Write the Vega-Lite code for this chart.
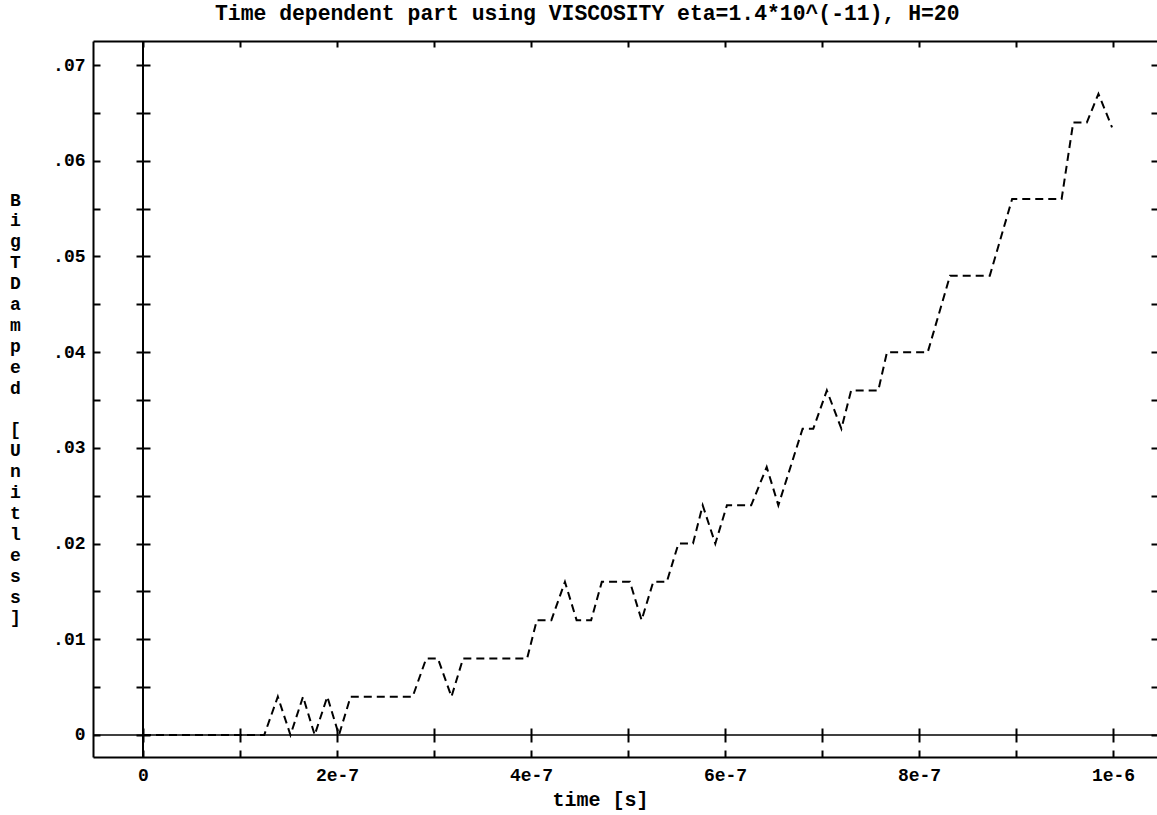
{
  "$schema": "https://vega.github.io/schema/vega-lite/v6.json",
  "width": 1064,
  "height": 716,
  "autosize": {"type": "none"},
  "padding": {"left": 93, "top": 41, "right": 0, "bottom": 58},
  "background": "white",
  "view": {"stroke": null},
  "config": {
    "font": "Liberation Mono",
    "axis": {"grid": false, "domainColor": "black", "tickColor": "black", "labelColor": "black", "titleColor": "black", "domainWidth": 2, "tickWidth": 2}
  },
  "title": {
    "text": "Time dependent part using VISCOSITY eta=1.4*10^(-11), H=20",
    "font": "Liberation Mono",
    "fontSize": 21.4,
    "fontWeight": "bold",
    "color": "black",
    "anchor": "start",
    "frame": "group",
    "dx": 122,
    "baseline": "alphabetic",
    "offset": -1
  },
  "resolve": {"axis": {"x": "independent", "y": "independent"}},
  "layer": [
    {
      "data": {
        "values": [
          {"t": 0, "v": 0},
          {"t": 1.25e-7, "v": 0},
          {"t": 1.39e-7, "v": 0.004},
          {"t": 1.52e-7, "v": 0},
          {"t": 1.65e-7, "v": 0.004},
          {"t": 1.77e-7, "v": 0},
          {"t": 1.90e-7, "v": 0.004},
          {"t": 2.02e-7, "v": 0},
          {"t": 2.14e-7, "v": 0.004},
          {"t": 2.78e-7, "v": 0.004},
          {"t": 2.92e-7, "v": 0.008},
          {"t": 3.04e-7, "v": 0.008},
          {"t": 3.18e-7, "v": 0.004},
          {"t": 3.30e-7, "v": 0.008},
          {"t": 3.96e-7, "v": 0.008},
          {"t": 4.06e-7, "v": 0.012},
          {"t": 4.21e-7, "v": 0.012},
          {"t": 4.35e-7, "v": 0.016},
          {"t": 4.47e-7, "v": 0.012},
          {"t": 4.62e-7, "v": 0.012},
          {"t": 4.73e-7, "v": 0.016},
          {"t": 5.02e-7, "v": 0.016},
          {"t": 5.14e-7, "v": 0.012},
          {"t": 5.26e-7, "v": 0.016},
          {"t": 5.40e-7, "v": 0.016},
          {"t": 5.52e-7, "v": 0.020},
          {"t": 5.67e-7, "v": 0.020},
          {"t": 5.77e-7, "v": 0.024},
          {"t": 5.90e-7, "v": 0.020},
          {"t": 6.02e-7, "v": 0.024},
          {"t": 6.27e-7, "v": 0.024},
          {"t": 6.43e-7, "v": 0.028},
          {"t": 6.55e-7, "v": 0.024},
          {"t": 6.80e-7, "v": 0.032},
          {"t": 6.91e-7, "v": 0.032},
          {"t": 7.05e-7, "v": 0.036},
          {"t": 7.20e-7, "v": 0.032},
          {"t": 7.30e-7, "v": 0.036},
          {"t": 7.58e-7, "v": 0.036},
          {"t": 7.67e-7, "v": 0.040},
          {"t": 8.09e-7, "v": 0.040},
          {"t": 8.32e-7, "v": 0.048},
          {"t": 8.73e-7, "v": 0.048},
          {"t": 8.96e-7, "v": 0.056},
          {"t": 9.47e-7, "v": 0.056},
          {"t": 9.59e-7, "v": 0.064},
          {"t": 9.73e-7, "v": 0.064},
          {"t": 9.85e-7, "v": 0.067},
          {"t": 9.99e-7, "v": 0.0635}
        ]
      },
      "mark": {"type": "line", "color": "black", "strokeWidth": 2, "strokeDash": [8, 5], "interpolate": "linear"},
      "encoding": {
        "x": {
          "field": "t", "type": "quantitative",
          "scale": {"domain": [-5.155e-8, 1.04536e-6], "nice": false, "zero": false},
          "axis": {
            "orient": "bottom",
            "values": [0, 1e-7, 2e-7, 3e-7, 4e-7, 5e-7, 6e-7, 7e-7, 8e-7, 9e-7, 1e-6],
            "tickSize": -7,
            "labelPadding": 16,
            "labelFontSize": 18,
            "labelFontWeight": "bold",
            "labelExpr": "round(datum.value*1e7) % 2 == 0 ? (datum.value == 0 ? '0' : format(datum.value, '.0e')) : ''",
            "labelFlush": false,
            "labelOverlap": false,
            "title": "time [s]",
            "titleFontSize": 20,
            "titleFontWeight": "bold",
            "titleX": 507,
            "titleY": 48,
            "titleAlign": "center",
            "titleBaseline": "alphabetic"
          }
        },
        "y": {
          "field": "v", "type": "quantitative",
          "scale": {"domain": [-0.0023, 0.072518], "nice": false, "zero": false},
          "axis": {
            "orient": "left",
            "values": [0, 0.005, 0.01, 0.015, 0.02, 0.025, 0.03, 0.035, 0.04, 0.045, 0.05, 0.055, 0.06, 0.065, 0.07],
            "tickSize": -7,
            "labelPadding": 15,
            "labelFontSize": 18,
            "labelFontWeight": "bold",
            "labelExpr": "round(datum.value*1000) % 10 == 0 ? (datum.value == 0 ? '0' : replace(format(datum.value, '.2f'), '0.', '.')) : ''",
            "labelFlush": false,
            "labelOverlap": false,
            "title": ["B","i","g","T","D","a","m","p","e","d","\u2800","[","U","n","i","t","l","e","s","s","]"],
            "titleFontSize": 18,
            "titleFontWeight": "bold",
            "titleAngle": 0,
            "titleAlign": "center",
            "titleBaseline": "top",
            "titleLineHeight": 20.9,
            "titleX": -78,
            "titleY": 150
          }
        }
      }
    },
    {
      "data": {"values": [{}]},
      "mark": {"type": "rule", "color": "black", "strokeWidth": 2},
      "encoding": {
        "x": {
          "datum": 0, "type": "quantitative",
          "scale": {"domain": [-5.155e-8, 1.04536e-6], "nice": false, "zero": false},
          "axis": {
            "orient": "top",
            "values": [0, 1e-7, 2e-7, 3e-7, 4e-7, 5e-7, 6e-7, 7e-7, 8e-7, 9e-7, 1e-6],
            "tickSize": -6,
            "labels": false,
            "title": null,
            "domain": true
          }
        },
        "y": {
          "datum": -0.0023, "type": "quantitative",
          "scale": {"domain": [-0.0023, 0.072518], "nice": false, "zero": false},
          "axis": {
            "orient": "right",
            "values": [0, 0.005, 0.01, 0.015, 0.02, 0.025, 0.03, 0.035, 0.04, 0.045, 0.05, 0.055, 0.06, 0.065, 0.07],
            "tickSize": -6,
            "labels": false,
            "title": null,
            "domain": false
          }
        },
        "y2": {"datum": 0.072518}
      }
    },
    {
      "data": {"values": [{}]},
      "mark": {"type": "rule", "color": "black", "strokeWidth": 1.5},
      "encoding": {
        "x": {
          "datum": -5.155e-8, "type": "quantitative",
          "scale": {"domain": [-5.155e-8, 1.04536e-6], "nice": false, "zero": false},
          "axis": {
            "orient": "bottom",
            "offset": -29,
            "values": [0, 1e-7, 2e-7, 3e-7, 4e-7, 5e-7, 6e-7, 7e-7, 8e-7, 9e-7, 1e-6],
            "tickSize": 14,
            "labels": false,
            "title": null,
            "domain": false
          }
        },
        "x2": {"datum": 1.04536e-6},
        "y": {
          "datum": 0, "type": "quantitative",
          "scale": {"domain": [-0.0023, 0.072518], "nice": false, "zero": false},
          "axis": {
            "orient": "left",
            "offset": -57,
            "values": [0, 0.005, 0.01, 0.015, 0.02, 0.025, 0.03, 0.035, 0.04, 0.045, 0.05, 0.055, 0.06, 0.065, 0.07],
            "tickSize": 14,
            "labels": false,
            "title": null,
            "domain": false
          }
        }
      }
    }
  ]
}
